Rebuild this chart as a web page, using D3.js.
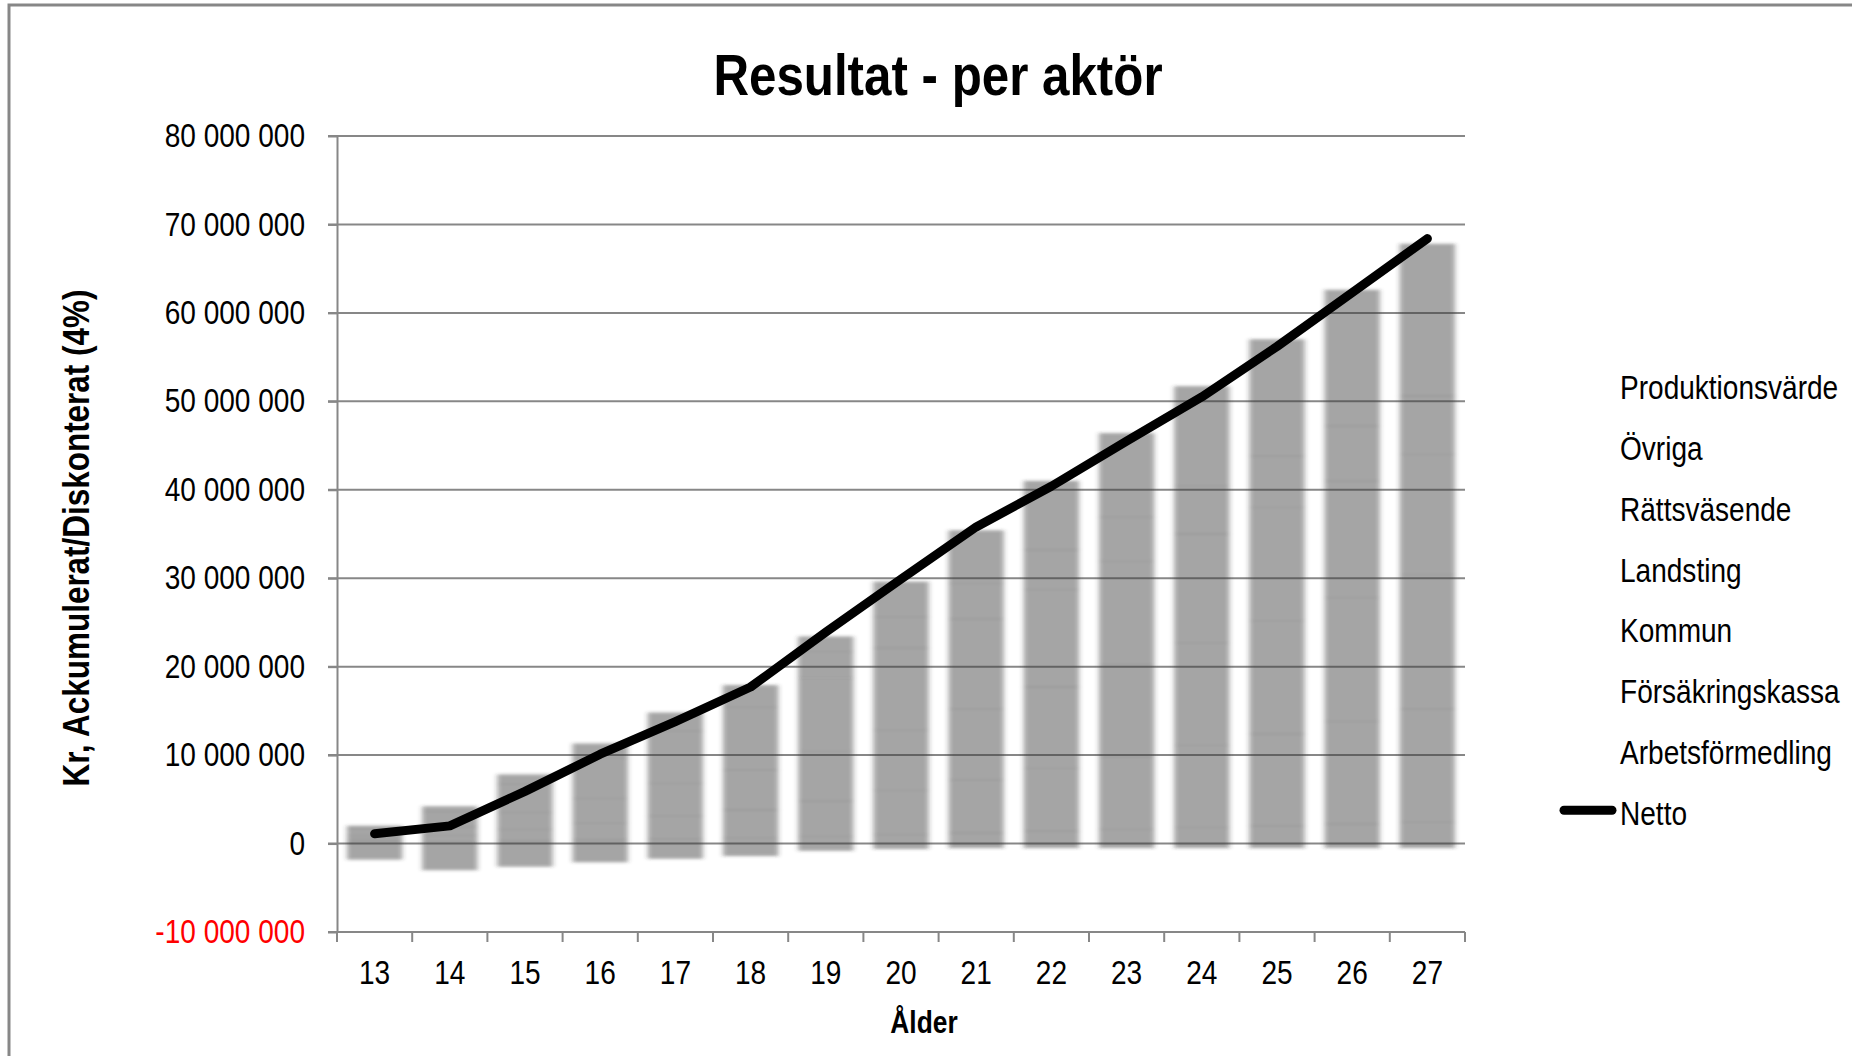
<!DOCTYPE html>
<html>
<head>
<meta charset="utf-8">
<script src="https://cdn.jsdelivr.net/npm/d3@7"></script>
<style>
  body { margin: 0; background: #fff; }
  svg text { font-family: "Liberation Sans Narrow", "Arial Narrow", "Liberation Sans", sans-serif; fill: #000; }
</style>
</head>
<body>
<svg id="chart" width="1852" height="1056"></svg>
<script>
// Ages on the x axis
const ages = ["13","14","15","16","17","18","19","20","21","22","23","24","25","26","27"];

// Accumulated, discounted (4%) result per actor, in millions of kronor
const arbetsformedling  = [0.1, 0.2, 0.3, 0.4, 0.5, 0.6, 0.8, 1.0, 1.2, 1.4, 1.6, 1.8, 2.0, 2.2, 2.4];
const forsakringskassa  = [0.3, 0.7, 1.3, 1.9, 2.6, 3.2, 4.0, 5.0, 6.0, 7.1, 8.2, 9.3, 10.4, 11.6, 12.8];
const kommun            = [-1.8, -3.0, -2.6, -2.1, -1.7, -1.4, -0.8, -0.6, -0.5, -0.5, -0.5, -0.5, -0.5, -0.5, -0.5];
const landsting         = [0.5, 1.0, 1.9, 2.8, 3.7, 4.5, 5.6, 6.8, 8.0, 9.2, 10.4, 11.6, 12.8, 14.0, 15.2];
const rattsvasende      = [0.8, 1.7, 3.2, 4.6, 5.9, 7.1, 8.3, 9.3, 10.2, 11.0, 11.7, 12.3, 12.8, 13.2, 13.6];
const ovriga            = [0.3, 0.6, 1.1, 1.6, 2.1, 2.5, 3.0, 3.5, 4.0, 4.5, 5.0, 5.4, 5.8, 6.2, 6.6];
const produktionsvarde  = [0.0, 0.0, 0.0, 0.0, 0.0, 0.0, 1.7, 4.0, 6.0, 7.8, 9.5, 11.3, 13.2, 15.4, 17.2];

// Net result over all actors, in millions of kronor
const netto = [1.1, 2.0, 5.9, 10.1, 13.8, 17.7, 23.9, 29.9, 35.8, 40.4, 45.5, 50.5, 56.2, 62.3, 68.4];

// Y axis ticks, in millions of kronor
const yTicks = [-10, 0, 10, 20, 30, 40, 50, 60, 70, 80];

// Stack order, bottom to top
const seriesKeys = ["Arbetsförmedling", "Försäkringskassa", "Kommun", "Landsting", "Rättsväsende", "Övriga", "Produktionsvärde"];
const seriesValues = {
  "Arbetsförmedling": arbetsformedling,
  "Försäkringskassa": forsakringskassa,
  "Kommun": kommun,
  "Landsting": landsting,
  "Rättsväsende": rattsvasende,
  "Övriga": ovriga,
  "Produktionsvärde": produktionsvarde
};
const legendLabels = seriesKeys.slice().reverse().concat(["Netto"]);

const MKR = 1e6;
const rows = ages.map((age, i) => {
  const r = { age };
  seriesKeys.forEach(k => { r[k] = seriesValues[k][i] * MKR; });
  return r;
});

const svg = d3.select("#chart");

// Outer chart frame
svg.append("rect")
  .attr("x", 9).attr("y", 5).attr("width", 1900).attr("height", 1100)
  .attr("fill", "none").attr("stroke", "#878787").attr("stroke-width", 3);

const plot = { left: 337, right: 1465, top: 136, bottom: 932 };

const x = d3.scaleBand().domain(ages).range([plot.left, plot.right])
  .paddingInner(0.27).paddingOuter(0.135);
const y = d3.scaleLinear().domain([-10 * MKR, 80 * MKR]).range([plot.bottom, plot.top]);

const fmt = v => d3.format(",")(v).replace(/,/g, " ").replace("−", "-");

// Blur for the bar fills
const defs = svg.append("defs");
defs.append("filter").attr("id", "soft")
  .attr("x", "-20%").attr("y", "-5%").attr("width", "140%").attr("height", "110%")
  .append("feGaussianBlur").attr("stdDeviation", "2.4 1.8");

// Horizontal gridlines
svg.append("g").selectAll("line")
  .data(yTicks.map(t => t * MKR))
  .join("line")
  .attr("x1", plot.left - 9).attr("x2", plot.right)
  .attr("y1", d => y(d)).attr("y2", d => y(d))
  .attr("stroke", "#878787").attr("stroke-width", 2);

// Stacked bars
const stacked = d3.stack().keys(seriesKeys).offset(d3.stackOffsetDiverging)(rows);
svg.append("g").attr("filter", "url(#soft)")
  .selectAll("g")
  .data(stacked)
  .join("g")
  .selectAll("rect")
  .data(d => d)
  .join("rect")
  .attr("x", d => x(d.data.age))
  .attr("width", x.bandwidth())
  .attr("y", d => y(Math.max(d[0], d[1])))
  .attr("height", d => Math.abs(y(d[0]) - y(d[1])))
  .attr("fill", "#373737").attr("fill-opacity", 0.445)
  .attr("stroke", "#373737").attr("stroke-opacity", 0.1).attr("stroke-width", 1);

// Y axis
const yAxis = svg.append("g")
  .attr("transform", `translate(${plot.left},0)`)
  .call(d3.axisLeft(y).tickValues(yTicks.map(t => t * MKR)).tickSize(9).tickSizeOuter(0)
    .tickPadding(23).tickFormat(fmt));
yAxis.select(".domain").attr("stroke", "#878787").attr("stroke-width", 2);
yAxis.selectAll(".tick line").attr("stroke", "#878787").attr("stroke-width", 2);
yAxis.selectAll(".tick text")
  .style("font-size", "33px")
  .style("fill", d => d < 0 ? "#ff0000" : "#000");

// X axis: labels at band centres, ticks at band boundaries
const xAxis = svg.append("g")
  .attr("transform", `translate(0,${plot.bottom})`)
  .call(d3.axisBottom(x).tickSize(0).tickPadding(0));
xAxis.select(".domain").remove();
xAxis.selectAll(".tick text")
  .attr("y", 40).attr("dy", "0.36em")
  .style("font-size", "33px");

const boundaries = d3.range(ages.length + 1).map(i => plot.left + i * x.step());
svg.append("g").selectAll("line")
  .data(boundaries)
  .join("line")
  .attr("x1", d => d).attr("x2", d => d)
  .attr("y1", plot.bottom).attr("y2", plot.bottom + 10)
  .attr("stroke", "#878787").attr("stroke-width", 2);

// Netto line
const lineGen = d3.line()
  .x((d, i) => x(ages[i]) + x.bandwidth() / 2)
  .y(d => y(d * MKR));
svg.append("path")
  .datum(netto)
  .attr("d", lineGen)
  .attr("fill", "none").attr("stroke", "#000").attr("stroke-width", 9)
  .attr("stroke-linejoin", "round").attr("stroke-linecap", "round");

// Title and axis titles
svg.append("text")
  .attr("x", 938).attr("y", 95)
  .attr("text-anchor", "middle")
  .style("font-size", "58px").style("font-weight", "bold")
  .text("Resultat - per aktör");

svg.append("text")
  .attr("transform", "translate(76,538) rotate(-90)")
  .attr("text-anchor", "middle").attr("dominant-baseline", "central")
  .style("font-size", "37px").style("font-weight", "bold")
  .text("Kr, Ackumulerat/Diskonterat (4%)");

svg.append("text")
  .attr("x", 924).attr("y", 1033)
  .attr("text-anchor", "middle")
  .style("font-size", "31px").style("font-weight", "bold")
  .text("Ålder");

// Legend
const legend = svg.append("g").attr("transform", "translate(1620,387)");
const items = legend.selectAll("g")
  .data(legendLabels)
  .join("g")
  .attr("transform", (d, i) => `translate(0,${i * 60.9})`);
items.append("text")
  .attr("x", 0).attr("y", 0).attr("dominant-baseline", "central")
  .style("font-size", "33px")
  .text(d => d);
items.filter(d => d === "Netto")
  .append("line")
  .attr("x1", -56).attr("x2", -8).attr("y1", -3).attr("y2", -3)
  .attr("stroke", "#000").attr("stroke-width", 9).attr("stroke-linecap", "round");

// Narrow lettering: when no condensed face is installed, squeeze the regular
// face horizontally about each text's anchor point.
(function condenseText() {
  const probe = document.createElement("canvas").getContext("2d");
  probe.font = '40px "Liberation Sans Narrow", "Arial Narrow", monospace';
  const narrowW = probe.measureText("0000000000").width;
  probe.font = '40px monospace';
  const monoW = probe.measureText("0000000000").width;
  if (Math.abs(narrowW - monoW) > 0.5) return; // a narrow face is present
  const k = 0.85;
  svg.selectAll("text").each(function () {
    const ax = +this.getAttribute("x") || 0;
    const prev = this.getAttribute("transform") || "";
    this.setAttribute("transform",
      `${prev} translate(${ax},0) scale(${k},1) translate(${-ax},0)`.trim());
  });
})();
</script>
</body>
</html>
